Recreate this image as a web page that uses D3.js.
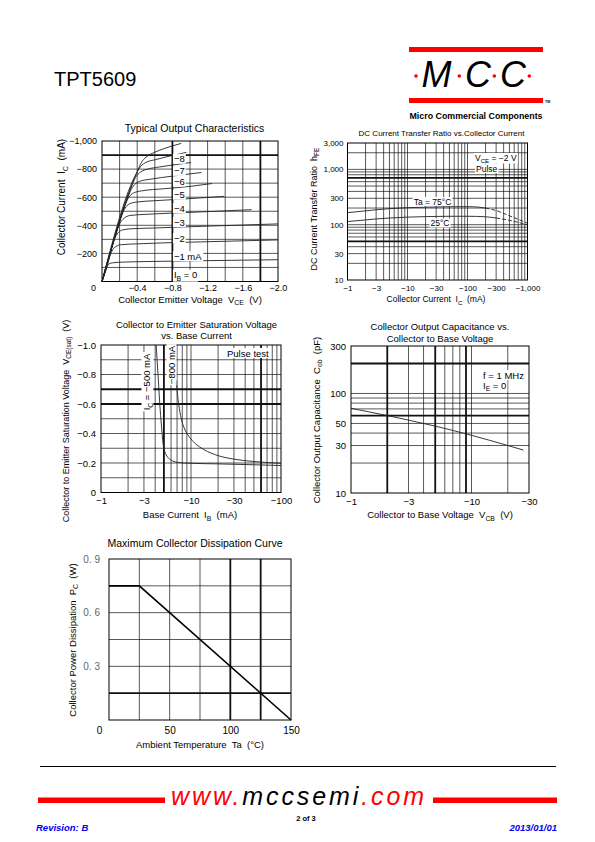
<!DOCTYPE html>
<html><head><meta charset="utf-8">
<script src="https://cdn.jsdelivr.net/npm/d3@7"></script>
<style>
body{margin:0;background:#fff}
svg{display:block}
text{font-family:"Liberation Sans",Arial,sans-serif;white-space:pre}
</style>
</head><body>
<svg id="page" width="595" height="842"></svg>
<script>
// ================= DATA =================
// Chart 1: Typical Output Characteristics  (|VCE| in V, |IC| in mA)
const c1XTicks = [0, 0.4, 0.8, 1.2, 1.6, 2.0];
const c1XTickLabels = ["0", "\u22120.4", "\u22120.8", "\u22121.2", "\u22121.6", "\u22122.0"];
const c1YTicks = [200, 400, 600, 800, 1000];
const c1YTickLabels = ["\u2212200", "\u2212400", "\u2212600", "\u2212800", "\u22121,000"];
const c1VGrid = [0.2, 0.4, 0.6, 0.8, 1.0, 1.2, 1.4, 1.6, 1.8];
const c1HGrid = [100, 200, 300, 400, 500, 600, 700, 800, 900];
const ic_ib1  = [[0,0],[0.03,60],[0.055,105],[0.08,125],[0.12,133],[0.2,137],[0.5,142],[1.0,147],[1.5,151],[2.0,155]];
const ic_ib2  = [[0,0],[0.05,94],[0.09,180],[0.12,225],[0.16,250],[0.22,262],[0.4,268],[1.0,280],[1.5,288],[2.0,296]];
const ic_ib3  = [[0,0],[0.05,94],[0.108,236],[0.14,300],[0.18,345],[0.24,368],[0.35,376],[0.6,381],[1.0,390],[1.5,400],[2.0,410]];
const ic_ib4  = [[0,0],[0.108,236],[0.166,354],[0.2,410],[0.25,450],[0.32,470],[0.5,478],[1.0,492],[1.4,503],[1.7,511]];
const ic_ib5  = [[0,0],[0.166,354],[0.224,472],[0.26,520],[0.31,552],[0.4,566],[0.6,575],[1.0,590],[1.39,606]];
const ic_ib6  = [[0,0],[0.224,472],[0.26,540],[0.3,595],[0.36,630],[0.45,645],[0.7,660],[1.0,677],[1.25,697]];
const ic_ib7  = [[0,0],[0.282,578],[0.32,640],[0.37,690],[0.44,715],[0.55,728],[0.8,750],[1.13,776]];
const ic_ib8  = [[0,0],[0.34,684],[0.38,740],[0.44,780],[0.52,800],[0.65,815],[0.85,833],[1.01,847]];
const ic_ib9  = [[0,0],[0.398,778],[0.44,820],[0.5,848],[0.6,866],[0.75,890],[0.96,919]];
const ic_ib10 = [[0,0],[0.398,778],[0.45,849],[0.5,885],[0.6,920],[0.7,945],[0.8,965],[0.9,983]];
const c1CurveLabels = ["\u22128", "\u22127", "\u22126", "\u22125", "\u22124", "\u22123", "\u22122", "\u22121 mA"];

// Chart 2: DC current transfer ratio (|IC| mA, hFE)
const c2XTicks = [1, 3, 10, 30, 100, 300, 1000];
const c2XTickLabels = ["\u22121", "\u22123", "\u221210", "\u221230", "\u2212100", "\u2212300", "\u22121,000"];
const c2YTicks = [10, 30, 100, 300, 1000, 3000];
const c2YTickLabels = ["10", "30", "100", "300", "1,000", "3,000"];
const c2VGrid = [2,3,4,5,6,7,8,9,10,20,30,40,50,60,70,80,90,100,200,300,400,500,600,700,800,900];
const c2HGrid = [20,30,40,50,60,70,80,90,100,200,300,400,500,600,700,800,900,1000,2000];
const hfe75_ic   = [1, 2, 3, 5, 10, 20, 30, 50, 100, 150, 200];
const hfe75      = [165, 178, 186, 195, 203, 207, 209, 211, 212, 208, 200];
const hfe75d_ic  = [200, 300, 500, 700, 1000];
const hfe75d     = [200, 180, 145, 125, 107];
const hfe25_ic   = [1, 2, 3, 5, 10, 20, 30, 50, 100, 200, 300];
const hfe25      = [114, 122, 127, 132, 137, 140, 141, 142, 142, 139, 132];
const hfe25d_ic  = [300, 500, 700, 1000];
const hfe25d     = [132, 120, 110, 100];

// Chart 3: VCE(sat) vs base current (|IB| mA, |VCE(sat)| V)
const c3XTicks = [1, 3, 10, 30, 100];
const c3XTickLabels = ["\u22121", "\u22123", "\u221210", "\u221230", "\u2212100"];
const c3YTicks = [0, 0.2, 0.4, 0.6, 0.8, 1.0];
const c3YTickLabels = ["0", "\u22120.2", "\u22120.4", "\u22120.6", "\u22120.8", "\u22121.0"];
const c3VGrid = [2,3,4,5,6,7,8,9,10,20,30,40,50,60,70,80,90];
const c3HGrid = [0.1,0.2,0.3,0.4,0.5,0.6,0.7,0.8,0.9];
const vsat500_ib = [4.1, 4.3, 4.5, 4.7, 4.9, 5.1, 5.5, 6, 7, 8.5, 10, 20, 50, 100];
const vsat500    = [1.0, 0.8, 0.6, 0.45, 0.33, 0.28, 0.24, 0.22, 0.205, 0.2, 0.198, 0.194, 0.188, 0.183];
const vsat800_ib = [6.9, 7.0, 7.3, 7.8, 8.5, 9.5, 11, 14, 20, 30, 50, 100];
const vsat800    = [0.76, 0.7, 0.6, 0.5, 0.43, 0.38, 0.335, 0.29, 0.25, 0.226, 0.21, 0.198];

// Chart 4: Cob vs VCB (|VCB| V, pF)
const c4XTicks = [1, 3, 10, 30];
const c4XTickLabels = ["\u22121", "\u22123", "\u221210", "\u221230"];
const c4YTicks = [10, 30, 50, 100, 300];
const c4YTickLabels = ["10", "30", "50", "100", "300"];
const c4VGrid = [2,3,4,5,6,7,8,9,10,20];
const c4HGrid = [20,30,40,50,60,70,80,90,100,200];
const cob_vcb = [1, 2, 3, 5, 10, 20, 27];
const cob     = [71, 60, 54, 47, 38, 30, 27];

// Chart 5: Maximum collector dissipation (Ta degC, PC W)
const c5XTicks = [0, 50, 100, 150];
const c5XTickLabels = ["0", "50", "100", "150"];
const c5YTicks = [0.3, 0.6, 0.9];
const c5YTickLabels = ["0. 3", "0. 6", "0. 9"];
const c5VGrid = [25, 50, 75, 100, 125];
const c5HGrid = [0.15, 0.3, 0.45, 0.6, 0.75];
const pc_ta = [0, 25, 150];
const pc    = [0.75, 0.75, 0];

// ================= DRAWING =================
const svg = d3.select("#page");
const FONT = '"Liberation Sans",Arial,sans-serif';

function rich(sel, parts, fs) {
  let shifted = false;
  parts.forEach(p => {
    if (typeof p === "string") {
      const t = sel.append("tspan").text(p);
      if (shifted) { t.attr("dy", -fs * 0.3); shifted = false; }
    } else {
      sel.append("tspan").attr("font-size", fs * 0.72).attr("dy", fs * 0.3).text(p.sub);
      shifted = true;
    }
  });
  return sel;
}
function txt(g, x, y, parts, fs, opt = {}) {
  const t = g.append("text").attr("x", x).attr("y", y).attr("font-size", fs)
    .attr("text-anchor", opt.anchor || "start").attr("fill", opt.fill || "#000");
  if (opt.weight) t.attr("font-weight", opt.weight);
  if (opt.style) t.attr("font-style", opt.style);
  if (opt.family) t.attr("font-family", opt.family);
  if (opt.rotate) t.attr("transform", `rotate(-90,${x},${y})`);
  rich(t, typeof parts === "string" ? [parts] : parts, fs);
  if (opt.bg) {
    const b = t.node().getBBox();
    const r = g.insert("rect", () => t.node()).attr("x", b.x - 1).attr("y", b.y + 0.5).attr("width", b.width + 2)
      .attr("height", b.height - 1).attr("fill", "#fff");
    if (opt.rotate) r.attr("transform", `rotate(-90,${x},${y})`);
  }
  return t;
}
function grid(g, xs, ys, vVals, vThick, hVals, hThick) {
  const [ya, yb] = ys.range(), [xa, xb] = xs.range();
  g.append("g").selectAll("line").data(vVals).join("line")
    .attr("x1", d => xs(d)).attr("x2", d => xs(d)).attr("y1", ya).attr("y2", yb)
    .attr("stroke", "#111").attr("stroke-width", d => vThick.includes(d) ? 1.8 : 0.7);
  g.append("g").selectAll("line").data(hVals).join("line")
    .attr("y1", d => ys(d)).attr("y2", d => ys(d)).attr("x1", xa).attr("x2", xb)
    .attr("stroke", "#111").attr("stroke-width", d => hThick.includes(d) ? 1.8 : 0.7);
  g.append("rect").attr("x", Math.min(xa, xb)).attr("y", Math.min(ya, yb))
    .attr("width", Math.abs(xb - xa)).attr("height", Math.abs(yb - ya))
    .attr("fill", "none").attr("stroke", "#000").attr("stroke-width", 1);
}
function axes(g, xs, ys, xt, xl, yt, yl, fs, xPad, yPad, opt = {}) {
  const ax = g.append("g").attr("transform", `translate(0,${ys.range()[0]})`)
    .call(d3.axisBottom(xs).tickValues(xt).tickFormat((d, i) => xl[i]).tickSize(0).tickPadding(xPad));
  const ay = g.append("g").attr("transform", `translate(${xs.range()[0]},0)`)
    .call(d3.axisLeft(ys).tickValues(yt).tickFormat((d, i) => yl[i]).tickSize(0).tickPadding(yPad));
  [ax, ay].forEach(a => {
    a.select(".domain").remove();
    a.attr("font-family", opt.family || FONT).attr("font-size", fs);
    a.selectAll("text").attr("fill", "#000");
  });
  if (opt.yFill) ay.selectAll("text").attr("fill", opt.yFill).attr("font-family", opt.yFamily).attr("font-size", opt.yFs);
  return [ax, ay];
}
const lineXY = (xs, ys) => d3.line().x(d => xs(d[0])).y(d => ys(d[1])).curve(d3.curveMonotoneX);
const zip = (a, b) => a.map((v, i) => [v, b[i]]);

// ---------- Header ----------
txt(svg, 54, 85.5, "TPT5609", 20);
svg.append("rect").attr("x", 409).attr("y", 47).attr("width", 134).attr("height", 5).attr("fill", "#ff0000");
svg.append("rect").attr("x", 409).attr("y", 98).attr("width", 134).attr("height", 5).attr("fill", "#ff0000");
[["M", 421.5], ["C", 465], ["C", 500]].forEach(([c, x]) => txt(svg, x, 86.5, c, 36, { style: "italic" }));
[416, 459.3, 494.3, 529.3].forEach(x => svg.append("circle").attr("cx", x).attr("cy", 76).attr("r", 1.8).attr("fill", "#ff0000"));
txt(svg, 545, 102.5, "TM", 3.5, { weight: "bold" });
txt(svg, 409.5, 118.5, "Micro Commercial Components", 9, { weight: "bold" }).attr("textLength", 133).attr("lengthAdjust", "spacingAndGlyphs");

// ---------- Chart 1 ----------
{
  const g = svg.append("g");
  const xs = d3.scaleLinear().domain([0, 2]).range([102, 278]);
  const ys = d3.scaleLinear().domain([0, 1000]).range([281.5, 141]);
  grid(g, xs, ys, c1VGrid, [0.8, 1.8], c1HGrid, [900]);
  const curves = [ic_ib1, ic_ib2, ic_ib3, ic_ib4, ic_ib5, ic_ib6, ic_ib7, ic_ib8, ic_ib9, ic_ib10];
  g.append("g").selectAll("path").data(curves).join("path").attr("d", lineXY(xs, ys))
    .attr("fill", "none").attr("stroke", "#222").attr("stroke-width", 0.9);
  const labelVals = [872, 786, 710, 616, 521, 421, 307, 179];
  c1CurveLabels.forEach((l, i) => txt(g, xs(0.8) + 1.5, ys(labelVals[i]) + 3.3, l, 9.5, { bg: true }));
  txt(g, xs(0.8) + 1.5, ys(46) + 3.3, ["I", { sub: "B" }, " = 0"], 9.5, { bg: true });
  const [ax] = axes(g, xs, ys, c1XTicks, c1XTickLabels, c1YTicks, c1YTickLabels, 9, 3, 5);
  ax.selectAll("text").filter(d => d === 0).attr("dx", -9);
  txt(g, 194.5, 131.5, "Typical Output Characteristics", 10.5, { anchor: "middle" });
  txt(g, 190, 302.5, ["Collector Emitter Voltage  V", { sub: "CE" }, "  (V)"], 9.5, { anchor: "middle" });
  txt(g, 65, 197, ["Collector Current  I", { sub: "C" }, "  (mA)"], 10, { anchor: "middle", rotate: true });
}

// ---------- Chart 2 ----------
{
  const g = svg.append("g");
  const xs = d3.scaleLog().domain([1, 1000]).range([347.5, 527.5]);
  const ys = d3.scaleLog().domain([10, 3000]).range([280, 143]);
  grid(g, xs, ys, c2VGrid, [], c2HGrid, [700, 50]);
  const ln = lineXY(xs, ys);
  g.append("path").attr("d", ln(zip(hfe75_ic, hfe75))).attr("fill", "none").attr("stroke", "#222").attr("stroke-width", 0.9);
  g.append("path").attr("d", ln(zip(hfe75d_ic, hfe75d))).attr("fill", "none").attr("stroke", "#222").attr("stroke-width", 0.9).attr("stroke-dasharray", "4,2");
  g.append("path").attr("d", ln(zip(hfe25_ic, hfe25))).attr("fill", "none").attr("stroke", "#222").attr("stroke-width", 0.9);
  g.append("path").attr("d", ln(zip(hfe25d_ic, hfe25d))).attr("fill", "none").attr("stroke", "#222").attr("stroke-width", 0.9).attr("stroke-dasharray", "4,2");
  txt(g, 432.5, 204.5, "Ta = 75\u00b0C", 8.5, { anchor: "middle", bg: true });
  txt(g, 440, 226, "25\u00b0C", 8.5, { anchor: "middle", bg: true });
  txt(g, 475, 160.5, ["V", { sub: "CE" }, " = \u22122 V"], 8.5, { bg: true });
  txt(g, 476, 171.5, "Pulse", 8.5, { bg: true });
  axes(g, xs, ys, c2XTicks, c2XTickLabels, c2YTicks, c2YTickLabels, 8, 5, 4);
  txt(g, 441.5, 135.5, "DC Current Transfer Ratio vs.Collector Current", 8, { anchor: "middle" });
  txt(g, 436, 302, ["Collector Current  I", { sub: "C" }, "  (mA)"], 8.5, { anchor: "middle" });
  txt(g, 316.5, 209, ["DC Current Transfer Ratio  h", { sub: "FE" }], 9, { anchor: "middle", rotate: true });
}

// ---------- Chart 3 ----------
{
  const g = svg.append("g");
  const xs = d3.scaleLog().domain([1, 100]).range([101, 281]);
  const ys = d3.scaleLinear().domain([0, 1]).range([492.5, 345]);
  grid(g, xs, ys, c3VGrid, [5, 60], c3HGrid, [0.6, 0.7]);
  const ln = lineXY(xs, ys);
  g.append("path").attr("d", ln(zip(vsat500_ib, vsat500))).attr("fill", "none").attr("stroke", "#222").attr("stroke-width", 0.9);
  g.append("path").attr("d", ln(zip(vsat800_ib, vsat800))).attr("fill", "none").attr("stroke", "#222").attr("stroke-width", 0.9);
  txt(g, 150, 382, ["I", { sub: "C" }, " = \u2212500 mA"], 9.5, { anchor: "middle", rotate: true, bg: true });
  txt(g, 175, 365, "\u2212800 mA", 9.5, { anchor: "middle", rotate: true, bg: true });
  txt(g, 227, 356.5, "Pulse test", 9.5, { bg: true });
  axes(g, xs, ys, c3XTicks, c3XTickLabels, c3YTicks, c3YTickLabels, 9.5, 5, 5);
  txt(g, 196.5, 327.5, "Collector to Emitter Saturation Voltage", 9.5, { anchor: "middle" });
  txt(g, 196.5, 338.5, "vs. Base Current", 9.5, { anchor: "middle" });
  txt(g, 190, 518, ["Base Current  I", { sub: "B" }, "  (mA)"], 9.5, { anchor: "middle" });
  txt(g, 68.5, 421, ["Collector to Emitter Saturation Voltage  V", { sub: "CE(sat)" }, "  (V)"], 9, { anchor: "middle", rotate: true });
}

// ---------- Chart 4 ----------
{
  const g = svg.append("g");
  const xs = d3.scaleLog().domain([1, 30]).range([351, 529]);
  const ys = d3.scaleLog().domain([10, 300]).range([493, 346]);
  grid(g, xs, ys, c4VGrid, [2, 5, 9], c4HGrid, [60, 200]);
  g.append("path").attr("d", lineXY(xs, ys)(zip(cob_vcb, cob))).attr("fill", "none").attr("stroke", "#222").attr("stroke-width", 0.9);
  txt(g, 483, 378.5, "f = 1 MHz", 9.5, { bg: true });
  txt(g, 483, 388.5, ["I", { sub: "E" }, " = 0"], 9.5, { bg: true });
  axes(g, xs, ys, c4XTicks, c4XTickLabels, c4YTicks, c4YTickLabels, 9.5, 5, 5);
  txt(g, 440, 329.5, "Collector Output Capacitance vs.", 9.5, { anchor: "middle" });
  txt(g, 440, 341.5, "Collector to Base Voltage", 9.5, { anchor: "middle" });
  txt(g, 440, 518, ["Collector to Base Voltage  V", { sub: "CB" }, "  (V)"], 9.5, { anchor: "middle" });
  txt(g, 319.5, 420, ["Collector Output Capacitance  C", { sub: "ob" }, "  (pF)"], 9.5, { anchor: "middle", rotate: true });
}

// ---------- Chart 5 ----------
{
  const g = svg.append("g");
  const xs = d3.scaleLinear().domain([0, 150]).range([109, 291]);
  const ys = d3.scaleLinear().domain([0, 0.9]).range([720, 559]);
  grid(g, xs, ys, c5VGrid, [100, 125], c5HGrid, [0.15]);
  g.append("path").attr("d", d3.line().x(d => xs(d[0])).y(d => ys(d[1]))(zip(pc_ta, pc)))
    .attr("fill", "none").attr("stroke", "#000").attr("stroke-width", 1.6);
  const [ax, ay] = axes(g, xs, ys, c5XTicks, c5XTickLabels, c5YTicks, c5YTickLabels, 10, 7, 9,
    { yFill: "#666", yFamily: '"Liberation Mono","DejaVu Sans Mono",monospace', yFs: 10 });
  ax.selectAll("text").filter(d => d === 0).attr("dx", -10);
  txt(g, 195, 547, "Maximum Collector Dissipation Curve", 10.5, { anchor: "middle" });
  txt(g, 200, 747.5, "Ambient Temperature  Ta  (\u00b0C)", 9.5, { anchor: "middle" });
  txt(g, 75.5, 640, ["Collector Power Dissipation  P", { sub: "C" }, "  (W)"], 9.5, { anchor: "middle", rotate: true });
}

// ---------- Footer ----------
svg.append("line").attr("x1", 40).attr("x2", 556).attr("y1", 766.5).attr("y2", 766.5).attr("stroke", "#000").attr("stroke-width", 1);
svg.append("rect").attr("x", 38).attr("y", 797.5).attr("width", 127).attr("height", 5.5).attr("fill", "#ff0000");
svg.append("rect").attr("x", 433).attr("y", 797.5).attr("width", 124).attr("height", 5.5).attr("fill", "#ff0000");
{
  const t = svg.append("text").attr("x", 171).attr("y", 805).attr("font-size", 25).attr("font-style", "italic")
    .attr("textLength", 253).attr("lengthAdjust", "spacing");
  t.append("tspan").attr("fill", "#ff0000").text("www.");
  t.append("tspan").attr("fill", "#000").text("mccsemi");
  t.append("tspan").attr("fill", "#ff0000").text(".com");
}
txt(svg, 306, 821, "2 of 3", 7.5, { anchor: "middle", weight: "bold" });
txt(svg, 36, 831, "Revision: B", 9.5, { weight: "bold", style: "italic", fill: "#0000ee" });
txt(svg, 557, 831, "2013/01/01", 9.5, { weight: "bold", style: "italic", fill: "#0000ee", anchor: "end" });
</script>
</body></html>
